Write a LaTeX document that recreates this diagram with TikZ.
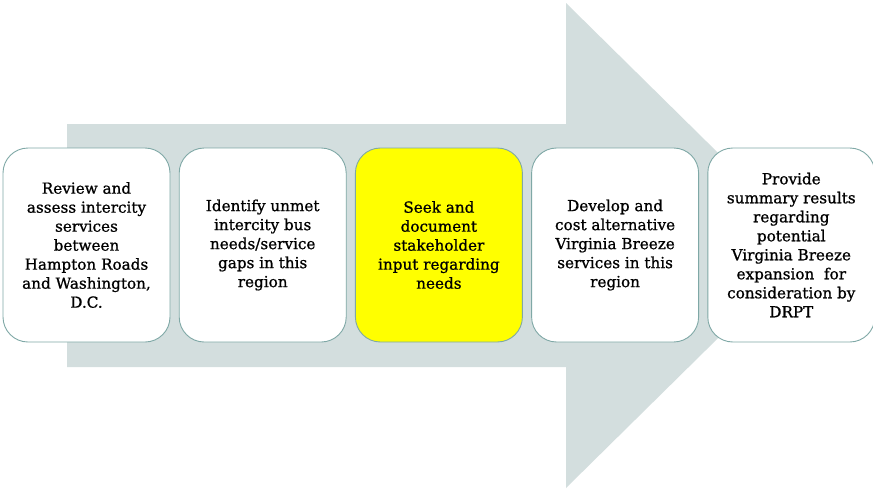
\documentclass[tikz,border=0pt]{standalone}
\usepackage{fontspec}
\setmainfont{DejaVu Serif}
\newfontfamily\stepfont[FakeBold=0.9]{DejaVu Serif}
\usetikzlibrary{positioning}

\definecolor{arrowgray}{HTML}{D3DEDE}
\definecolor{boxedge}{HTML}{7FA8A6}
\definecolor{stepyellow}{HTML}{FFFF00}

\tikzset{
  stepbox/.style={draw=boxedge, line width=0.9pt, fill=white, rounded corners=25pt,
    minimum width=167pt, minimum height=194pt, inner sep=0pt, align=center,
    font=\stepfont\fontsize{15.2}{19}\selectfont},
}

\begin{document}
\begin{tikzpicture}[x=1pt, y=-1pt]
  \useasboundingbox (0,0) rectangle (873,491);

  % big background arrow
  \fill[arrowgray] (67,124) -- (566,124) -- (566,3) -- (812,245.5)
    -- (566,488) -- (566,367) -- (67,367) -- cycle;

  \node[stepbox] (review) at (86.5,245) {Review and\\assess intercity\\services\\between\\Hampton Roads\\and Washington,\\D.C.};
  \node[stepbox, right=8.3pt of review] (identify) {Identify unmet\\intercity bus\\needs/service\\gaps in this\\region};
  \node[stepbox, fill=stepyellow, right=8.3pt of identify] (seek) {Seek and\\document\\stakeholder\\input regarding\\needs};
  \node[stepbox, right=8.3pt of seek] (develop) {Develop and\\cost alternative\\Virginia Breeze\\services in this\\region};
  \node[stepbox, right=8.3pt of develop] (provide) {Provide\\summary results\\regarding\\potential\\Virginia Breeze\\expansion\ \ for\\consideration by\\DRPT};
\end{tikzpicture}
\end{document}
